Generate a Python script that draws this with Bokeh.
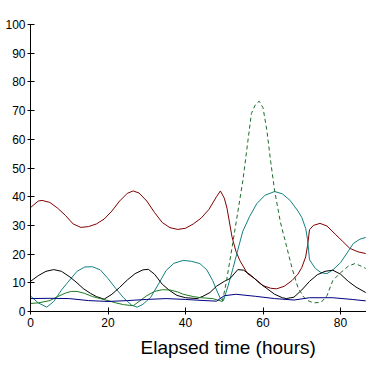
from bokeh.plotting import figure
from bokeh.models import Range1d, Title, FixedTicker
from bokeh.embed import file_html
from bokeh.resources import INLINE

# ---- data ----
red_x = [0, 2, 3, 5, 7, 9, 11, 13, 15, 17, 19, 21, 23, 25, 26.5, 28, 30, 32, 34, 36, 38, 40, 42, 44, 46, 48, 49,
         50, 50.7, 52, 53, 54, 56, 58.5, 60, 62, 63.5, 65.5, 67.5, 69, 70, 71, 71.5, 72, 73, 74.7, 76.5, 78.6, 80.5,
         82.4, 84.5, 86.5]
red_y = [36.2, 38.5, 38.7, 38, 36, 33.5, 30.5, 29.3, 29.6, 30.5, 32.2, 35, 38.5, 41.2, 42, 41.3, 38.5, 34.5, 31,
         29.2, 28.6, 29, 30.5, 32.5, 35.5, 40, 42, 39.5, 36, 26, 21, 17.8, 13.2, 10.8, 9, 8.1, 7.9, 8.8, 10.8, 13,
         15.3, 19, 23, 28.5, 30, 30.7, 29.8, 27, 24.5, 22, 20.8, 20.2]

teal_x = [0, 2, 4.2, 6, 8, 9.4, 12, 14, 16, 18, 20, 22, 24, 26, 27.5, 29, 31, 33, 35, 37, 39.4, 41.5, 43.7, 45.5,
          47, 48, 49, 49.8, 51, 52.3, 53.5, 54.8, 56.5, 58.4, 60.5, 63, 65, 67, 69, 70, 71, 71.5, 72, 73.5, 75,
          76.5, 78, 80, 81.5, 83.3, 85, 86.5]
teal_y = [5.4, 3, 1.5, 3.5, 7.5, 9.8, 14, 15.5, 15.6, 14.5, 11.5, 8, 4.8, 2.3, 1.5, 2.5, 4.9, 9.5, 14.3, 16.8,
          17.8, 17.5, 16.7, 14.5, 10.8, 7.5, 4.5, 3.8, 9, 15.3, 21.5, 28, 33, 37.6, 40.5, 41.8, 41, 38.7, 35,
          32.8, 29, 25, 18, 15, 13.5, 13.2, 14.5, 17, 20, 23.7, 25.2, 25.8]

black_x = [0, 2, 4, 6, 8, 10.2, 12, 13.6, 15.5, 17, 19, 21, 23, 25, 27, 29, 30.4, 32, 34, 36, 37.8, 40, 43, 44.5,
           46.3, 48, 50, 51.5, 53.5, 55, 57, 59, 61, 63, 65, 66, 68, 70, 72, 74, 76, 78, 80, 82, 84, 86.5]
black_y = [10.5, 12.5, 14, 14.6, 14, 12, 10, 8, 6.3, 5.2, 4.3, 6, 8.4, 11, 13.2, 14.5, 14.7, 13, 9.5, 7.2, 5.6,
           4.8, 4.5, 5.3, 6.6, 8.8, 10.5, 11.5, 14.6, 14.4, 12.5, 10, 8, 6, 4.8, 4.5, 5, 7.5, 10.5, 12.8, 14,
           14.4, 13, 10.5, 8.5, 6.6]

green_x = [0, 2, 5, 7, 9, 10.5, 12, 14, 16, 18, 20, 22, 24, 26.5, 28, 30, 32, 34, 36, 38, 39.4, 42, 44, 47,
           49.5]
green_y = [2.8, 3, 3.8, 5.2, 6.4, 7, 7, 6.3, 5.2, 4.5, 3.8, 3, 2.4, 2, 3.5, 5.5, 7, 7.6, 7.5, 6.8, 6, 5.2, 4.8,
           4.5, 3.5]

dash_x = [49.5, 50.5, 52.3, 54.8, 57, 58, 59, 60, 61, 62, 63, 64.5, 65.7, 67.5, 69, 70.5, 71.6, 73, 75, 76.5, 78,
          80, 82, 83.7, 85, 86.5]
dash_y = [3.5, 10, 24.7, 45.6, 69, 72, 73.3, 71, 63, 52, 42, 31, 24.7, 15, 8.4, 5, 3.8, 3, 3.2, 5.5, 10.8, 13.5,
          15.8, 16.7, 16, 15]

navy_x = [0, 5, 10, 15, 20, 25, 30, 35, 40, 45, 48, 50, 53, 58, 63, 68, 72, 78, 83, 86.5]
navy_y = [4.5, 4.6, 4.5, 3.8, 3.5, 3.8, 4.2, 4.5, 4.2, 3.8, 3.6, 5.5, 6.0, 5.3, 4.5, 4.0, 4.8, 4.8, 4.2, 3.7]

x_ticks = [0, 20, 40, 60, 80]
y_ticks = [0, 10, 20, 30, 40, 50, 60, 70, 80, 90, 100]
x_title = "Elapsed time (hours)"

# ---- figure ----
p = figure(width=366, height=366, output_backend="svg", toolbar_location=None,
           x_range=Range1d(0, 86.7), y_range=Range1d(0, 100),
           min_border_left=30, min_border_right=0, min_border_top=24, min_border_bottom=55)
p.outline_line_color = None
p.grid.visible = False
p.background_fill_color = "white"
p.border_fill_color = "white"

for ax in (p.xaxis, p.yaxis):
    ax.axis_line_color = "black"
    ax.major_tick_line_color = "black"
    ax.minor_tick_line_color = None
    ax.major_tick_in = 4
    ax.major_tick_out = 3
    ax.major_label_text_font = "Liberation Sans"
    ax.major_label_text_font_size = "12px"
    ax.major_label_text_color = "black"
p.yaxis.major_label_standoff = 2
p.xaxis.major_label_standoff = 3
p.xaxis.ticker = FixedTicker(ticks=x_ticks)
p.yaxis.ticker = FixedTicker(ticks=y_ticks)

p.line(red_x, red_y, line_color="#800000", line_width=1)
p.line(teal_x, teal_y, line_color="#128080", line_width=1)
p.line(black_x, black_y, line_color="black", line_width=1)
p.line(green_x, green_y, line_color="#1f7a1f", line_width=1)
p.line(dash_x, dash_y, line_color="#1a6b2a", line_width=1, line_dash="4 3")
p.line(navy_x, navy_y, line_color="#000080", line_width=1)

p.add_layout(Title(text=x_title, align="left", offset=110, standoff=10,
                   text_font="Liberation Sans", text_font_size="19px", text_font_style="normal",
                   text_color="black"), "below")

open("out.html", "w").write(file_html(p, INLINE))
